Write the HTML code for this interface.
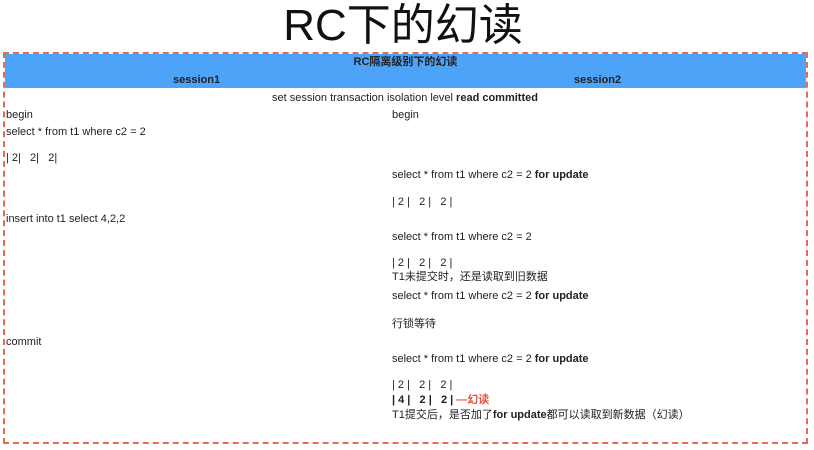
<!DOCTYPE html>
<html><head><meta charset="utf-8"><style>
body{margin:0;width:814px;height:450px;background:#fff;position:relative;overflow:hidden;font-family:"Liberation Sans","Noto Sans CJK SC",sans-serif;color:#222}
.t{position:absolute;font-size:11px;line-height:14px;white-space:nowrap}
b{font-weight:bold}
</style></head><body>
<div style="position:absolute;left:0;width:814px;top:2px;text-align:center;font-size:44px;line-height:48px;color:#111;padding-right:8px;box-sizing:border-box">RC下的幻读</div>
<div style="position:absolute;left:3px;top:52px;width:801px;height:388px;border:2px dashed #e86a55"></div>
<div style="position:absolute;left:5px;top:54px;width:801px;height:34px;background:#4da3f7"></div>
<div class="t" style="left:5px;width:801px;text-align:center;top:55px;font-weight:bold">RC隔离级别下的幻读</div>
<div class="t" style="left:173px;top:73px;font-weight:bold">session1</div>
<div class="t" style="left:574px;top:73px;font-weight:bold">session2</div>
<div class="t" style="left:272px;top:91px">set session transaction isolation level <b>read committed</b></div>
<div class="t" style="left:6px;top:108px">begin</div>
<div class="t" style="left:392px;top:108px">begin</div>
<div class="t" style="left:6px;top:125px">select * from t1 where c2 = 2</div>
<div class="t" style="left:6px;top:151px">| 2|&nbsp;&nbsp;&nbsp;2|&nbsp;&nbsp;&nbsp;2|</div>
<div class="t" style="left:392px;top:168px">select * from t1 where c2 = 2 <b>for update</b></div>
<div class="t" style="left:392px;top:195px">| 2 |&nbsp;&nbsp;&nbsp;2 |&nbsp;&nbsp;&nbsp;2 |</div>
<div class="t" style="left:6px;top:212px">insert into t1 select 4,2,2</div>
<div class="t" style="left:392px;top:230px">select * from t1 where c2 = 2</div>
<div class="t" style="left:392px;top:256px">| 2 |&nbsp;&nbsp;&nbsp;2 |&nbsp;&nbsp;&nbsp;2 |</div>
<div class="t" style="left:392px;top:270px">T1未提交时，还是读取到旧数据</div>
<div class="t" style="left:392px;top:289px">select * from t1 where c2 = 2 <b>for update</b></div>
<div class="t" style="left:392px;top:317px">行锁等待</div>
<div class="t" style="left:6px;top:335px">commit</div>
<div class="t" style="left:392px;top:352px">select * from t1 where c2 = 2 <b>for update</b></div>
<div class="t" style="left:392px;top:378px">| 2 |&nbsp;&nbsp;&nbsp;2 |&nbsp;&nbsp;&nbsp;2 |</div>
<div class="t" style="left:392px;top:393px"><b>| 4 |&nbsp;&nbsp;&nbsp;2 |&nbsp;&nbsp;&nbsp;2 |</b> <span style="color:#e5533d;font-weight:bold">—幻读</span></div>
<div class="t" style="left:392px;top:408px">T1提交后，是否加了<b>for update</b>都可以读取到新数据（幻读）</div>
</body></html>
